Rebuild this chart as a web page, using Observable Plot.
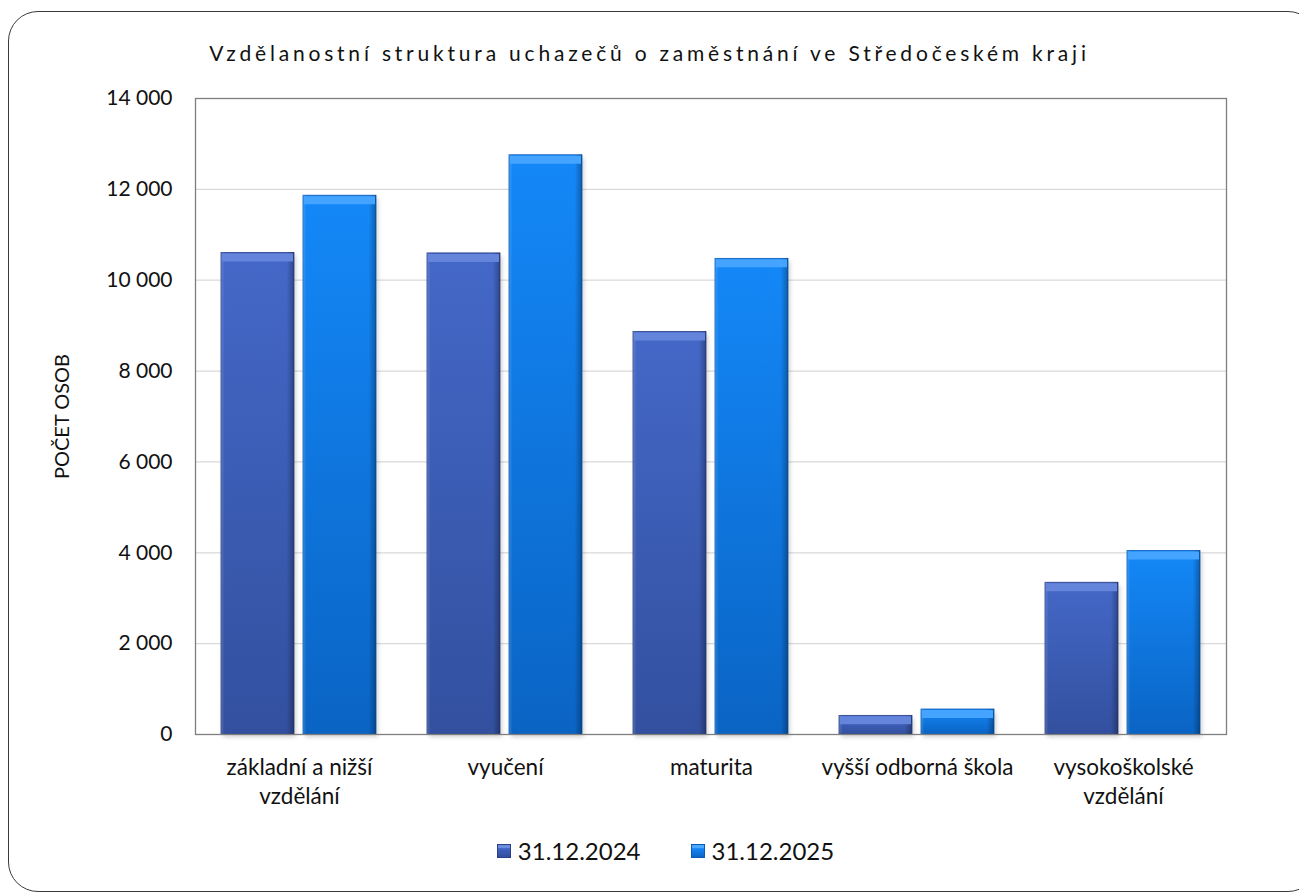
<!DOCTYPE html>
<html>
<head>
<meta charset="utf-8">
<script src="https://cdn.jsdelivr.net/npm/d3@7"></script>
<script src="https://cdn.jsdelivr.net/npm/@observablehq/plot@0.6"></script>
<style>
  html, body { margin: 0; padding: 0; background: #fff; }
  #wrap { position: relative; width: 1299px; height: 895px; overflow: hidden; font-family: Lato, "Open Sans", sans-serif; }
  #chart { position: absolute; left: 0; top: 0; }
  #border { position: absolute; left: 8px; top: 11px; width: 1310px; height: 881px; border: 1.3px solid #3a3a3a; border-radius: 30px; box-sizing: border-box; pointer-events: none; }
  #title { position: absolute; left: 0; width: 1299px; top: 40px; text-align: center; font-size: 21px; letter-spacing: 3.8px; color: #111; white-space: nowrap; }
  #legend { position: absolute; left: 16px; width: 1299px; top: 836px; display: flex; justify-content: center; align-items: center; gap: 50px; font-size: 24px; color: #111; }
  .item { display: flex; align-items: center; gap: 7px; }
  .sw { width: 14px; height: 14px; display: inline-block; box-sizing: border-box; }
  .s2024 { background: linear-gradient(180deg, #6b8be0 0%, #6b8be0 25%, #3f62c2 30%, #33509f 100%); border: 1px solid #2b3f86; }
  .s2025 { background: linear-gradient(180deg, #4aa8ff 0%, #4aa8ff 25%, #1486f5 30%, #0a66c8 100%); border: 1px solid #0b5ab5; }
</style>
</head>
<body>
<div id="wrap">
  <div id="chart"></div>
  <div id="title">Vzdělanostní struktura uchazečů o zaměstnání ve Středočeském kraji</div>
  <div id="legend">
    <div class="item"><span class="sw s2024"></span><span>31.12.2024</span></div>
    <div class="item"><span class="sw s2025"></span><span>31.12.2025</span></div>
  </div>
  <div id="border"></div>
</div>
<script>
const categories = ["základní a nižší vzdělání", "vyučení", "maturita", "vyšší odborná škola", "vysokoškolské vzdělání"];
const categoryLabels = ["základní a nižší\nvzdělání", "vyučení", "maturita", "vyšší odborná škola", "vysokoškolské\nvzdělání"];
const values2024 = [10600, 10590, 8860, 410, 3340];
const values2025 = [11860, 12750, 10470, 550, 4040];
const yTicks = [0, 2000, 4000, 6000, 8000, 10000, 12000, 14000];
const yAxisTitle = "POČET OSOB";

const data2024 = categories.map((c, i) => ({category: c, value: values2024[i]}));
const data2025 = categories.map((c, i) => ({category: c, value: values2025[i]}));
const labelData = categories.map((c, i) => ({category: c, label: categoryLabels[i]}));

const fmt = d => d3.format(",")(d).replace(/,/g, " ");

const ins2024 = {insetLeft: 25, insetRight: 108};
const ins2025 = {insetLeft: 107, insetRight: 26};

const chart = Plot.plot({
  width: 1299,
  height: 895,
  marginLeft: 195,
  marginRight: 73,
  marginTop: 98,
  marginBottom: 161,
  style: {fontFamily: "Lato, 'Open Sans', sans-serif", fontSize: "21px", color: "#111", background: "transparent"},
  x: {domain: categories, padding: 0, axis: null},
  y: {domain: [0, 14000], ticks: yTicks, tickFormat: fmt, tickSize: 0, tickPadding: 23, label: null},
  marks: [
    Plot.ruleY(yTicks.slice(1, -1), {stroke: "#d9d9d9", strokeWidth: 1.3}),
    // shadows
    Plot.barY(data2024, {x: "category", y: "value", ...ins2024, fill: "#000", fillOpacity: 0.18, dx: 2, dy: 3}),
    Plot.barY(data2025, {x: "category", y: "value", ...ins2025, fill: "#000", fillOpacity: 0.18, dx: 2, dy: 3}),
    // main bars
    Plot.barY(data2024, {x: "category", y: "value", ...ins2024, fill: "url(#v2024)", stroke: "#2b3f86", strokeWidth: 0.8}),
    Plot.barY(data2025, {x: "category", y: "value", ...ins2025, fill: "url(#v2025)", stroke: "#0b5ab5", strokeWidth: 0.8}),
    // side shading
    Plot.barY(data2024, {x: "category", y: "value", ...ins2024, fill: "url(#hshade)"}),
    Plot.barY(data2025, {x: "category", y: "value", ...ins2025, fill: "url(#hshade)"}),
    // top bevel
    Plot.tickY(data2024, {x: "category", y: "value", insetLeft: 26, insetRight: 109, stroke: "#6585dc", strokeWidth: 8, dy: 4.5}),
    Plot.tickY(data2025, {x: "category", y: "value", insetLeft: 108, insetRight: 27, stroke: "#45a4ff", strokeWidth: 8, dy: 4.5}),
    Plot.frame({stroke: "#7f7f7f", strokeWidth: 1.3}),
    Plot.text(labelData, {x: "category", text: "label", frameAnchor: "bottom", lineAnchor: "top", dy: 21, lineHeight: 1.25, fontSize: 22.5, fill: "#111"}),
    Plot.text([yAxisTitle], {frameAnchor: "left", textAnchor: "middle", rotate: -90, dx: -133, fontSize: 20, fill: "#111"})
  ]
});

const svg = chart.tagName.toLowerCase() === "svg" ? chart : chart.querySelector("svg");
const defs = document.createElementNS("http://www.w3.org/2000/svg", "defs");
defs.innerHTML = `
  <linearGradient id="v2024" x1="0" y1="0" x2="0" y2="1">
    <stop offset="0%" stop-color="#4468c8"/>
    <stop offset="100%" stop-color="#33509f"/>
  </linearGradient>
  <linearGradient id="v2025" x1="0" y1="0" x2="0" y2="1">
    <stop offset="0%" stop-color="#1488f8"/>
    <stop offset="100%" stop-color="#0a64c4"/>
  </linearGradient>
  <linearGradient id="hshade" x1="0" y1="0" x2="1" y2="0">
    <stop offset="0%" stop-color="#ffffff" stop-opacity="0.15"/>
    <stop offset="5%" stop-color="#ffffff" stop-opacity="0"/>
    <stop offset="90%" stop-color="#000000" stop-opacity="0"/>
    <stop offset="100%" stop-color="#000000" stop-opacity="0.3"/>
  </linearGradient>
  <filter id="blur" x="-10%" y="-10%" width="120%" height="120%">
    <feGaussianBlur stdDeviation="2"/>
  </filter>`;
svg.insertBefore(defs, svg.firstChild);
const barGroups = svg.querySelectorAll('g[aria-label="bar"]');
if (barGroups.length >= 2) {
  barGroups[0].setAttribute("filter", "url(#blur)");
  barGroups[1].setAttribute("filter", "url(#blur)");
}
document.getElementById("chart").appendChild(chart);
</script>
</body>
</html>
